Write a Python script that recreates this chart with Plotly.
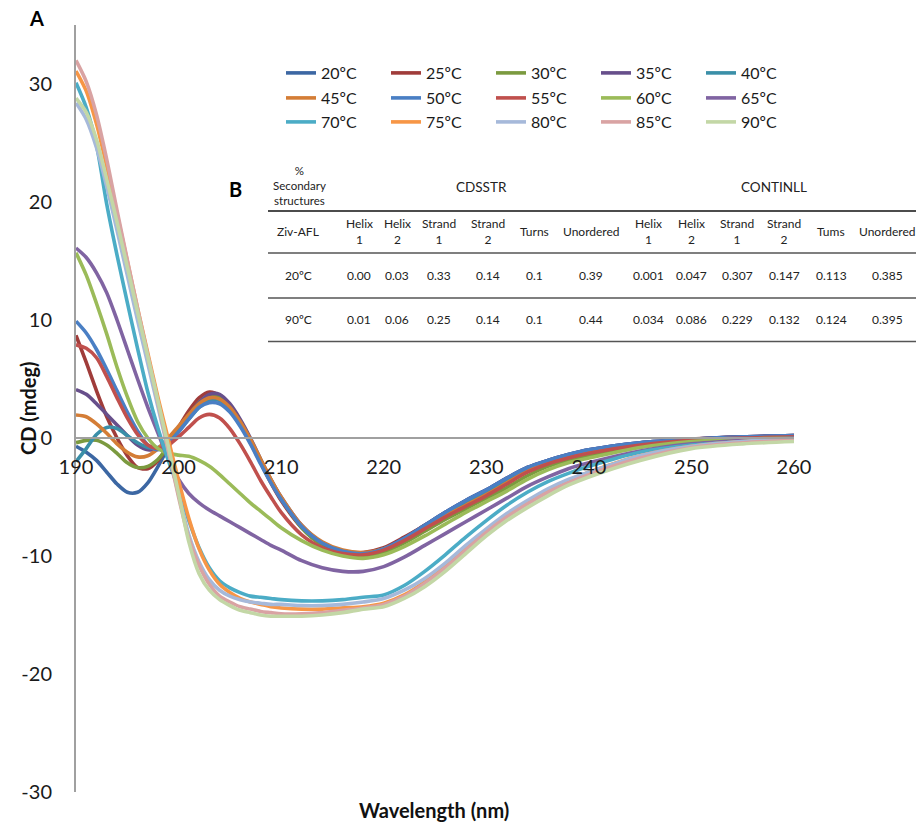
import plotly.graph_objects as go

# Wavelength grid (nm)
wavelength = [190, 191, 192, 193, 194, 195, 196, 197, 198, 199, 200,
              201, 202, 203, 204, 205, 206, 207, 208, 209, 210,
              212, 214, 216, 218, 220, 222, 224, 226, 228, 230,
              232, 234, 236, 238, 240, 245, 250, 255, 260]

temps = ["20ºC", "25ºC", "30ºC", "35ºC", "40ºC",
         "45ºC", "50ºC", "55ºC", "60ºC", "65ºC",
         "70ºC", "75ºC", "80ºC", "85ºC", "90ºC"]

colors = ["#3c67a3", "#a03c3a", "#7b9a3f", "#674f8b", "#3a8fa8",
          "#d47d36", "#4a7fc4", "#c0504d", "#9bbb59", "#8064a2",
          "#4bacc6", "#f79646", "#a6b9da", "#d9a3a3", "#c3d7a6"]

# CD signal (mdeg) per temperature
cd_20 = [-0.7, -1.2, -1.9, -2.9, -3.9, -4.6, -4.6, -3.8, -2.4, -0.8, 0.6,
         1.8, 2.8, 3.3, 3.2, 2.5, 1.2, -0.3, -2.0, -3.7, -5.2,
         -7.5, -8.9, -9.6, -9.8, -9.4, -8.5, -7.4, -6.3, -5.3, -4.4,
         -3.4, -2.5, -1.9, -1.4, -1.0, -0.4, -0.1, 0.1, 0.2]
cd_25 = [8.7, 6.4, 4.0, 1.8, 0.0, -1.5, -2.5, -2.6, -1.9, -0.6, 0.9,
         2.3, 3.4, 3.9, 3.6, 2.6, 1.2, -0.4, -2.1, -3.8, -5.3,
         -7.6, -9.0, -9.6, -9.7, -9.3, -8.4, -7.4, -6.4, -5.5, -4.6,
         -3.6, -2.6, -2.0, -1.5, -1.1, -0.5, -0.1, 0.1, 0.2]
cd_30 = [-0.4, -0.2, -0.2, -0.6, -1.3, -2.1, -2.5, -2.4, -1.8, -0.7, 0.6,
         1.9, 3.0, 3.6, 3.5, 2.7, 1.4, -0.2, -1.9, -3.6, -5.1,
         -7.6, -9.1, -9.9, -10.1, -9.7, -8.9, -7.9, -6.9, -6.0, -5.1,
         -4.2, -3.2, -2.4, -1.9, -1.5, -0.7, -0.3, -0.1, 0.1]
cd_35 = [4.1, 3.7, 2.9, 2.0, 1.1, 0.2, -0.6, -1.0, -0.9, -0.3, 0.7,
         1.9, 3.0, 3.7, 3.7, 2.9, 1.6, 0.0, -1.8, -3.5, -5.0,
         -7.4, -8.9, -9.6, -9.8, -9.4, -8.5, -7.4, -6.3, -5.3, -4.4,
         -3.4, -2.5, -1.9, -1.4, -1.0, -0.4, -0.1, 0.1, 0.2]
cd_40 = [-2.0, -0.9, 0.3, 0.9, 0.8, 0.2, -0.4, -0.8, -0.8, -0.3, 0.6,
         1.6, 2.6, 3.2, 3.2, 2.5, 1.3, -0.2, -1.9, -3.6, -5.1,
         -7.5, -8.9, -9.6, -9.8, -9.4, -8.6, -7.5, -6.5, -5.5, -4.6,
         -3.6, -2.7, -2.0, -1.5, -1.1, -0.5, -0.2, 0.0, 0.1]
cd_45 = [1.95, 1.8, 1.2, 0.4, -0.5, -1.2, -1.6, -1.5, -0.9, 0.0, 1.0,
         2.0, 2.9, 3.4, 3.3, 2.6, 1.4, -0.1, -1.8, -3.5, -5.0,
         -7.4, -8.8, -9.5, -9.7, -9.4, -8.6, -7.6, -6.6, -5.7, -4.8,
         -3.8, -2.8, -2.1, -1.6, -1.2, -0.5, -0.2, 0.0, 0.1]
cd_50 = [9.9, 8.9, 7.5, 5.8, 4.0, 2.2, 0.6, -0.6, -1.0, -0.5, 0.5,
         1.6, 2.6, 3.0, 2.9, 2.2, 1.0, -0.5, -2.2, -3.8, -5.2,
         -7.5, -8.9, -9.6, -9.8, -9.4, -8.5, -7.4, -6.3, -5.3, -4.4,
         -3.4, -2.5, -1.9, -1.4, -1.0, -0.4, -0.1, 0.1, 0.2]
cd_55 = [7.9, 7.6, 6.8, 5.2, 3.4, 1.7, 0.3, -0.6, -0.9, -0.6, 0.1,
         0.9, 1.7, 2.0, 1.7, 0.8, -0.5, -2.0, -3.6, -5.0, -6.3,
         -8.2, -9.3, -9.8, -9.9, -9.5, -8.7, -7.7, -6.7, -5.8, -4.9,
         -3.9, -2.9, -2.2, -1.7, -1.3, -0.6, -0.2, 0.0, 0.1]
cd_60 = [15.7, 13.8, 11.4, 8.8, 6.0, 3.5, 1.4, 0.0, -0.9, -1.3, -1.45,
         -1.55, -1.9, -2.4, -3.1, -3.9, -4.7, -5.5, -6.2, -6.9, -7.6,
         -8.7, -9.5, -10.0, -10.2, -9.9, -9.2, -8.3, -7.3, -6.3, -5.4,
         -4.5, -3.5, -2.7, -2.1, -1.7, -0.8, -0.3, -0.1, 0.0]
cd_65 = [16.1, 15.3, 14.0, 12.3, 10.0, 7.5, 5.0, 2.6, 0.4, -1.8, -3.5,
         -4.7, -5.5, -6.1, -6.6, -7.1, -7.6, -8.1, -8.6, -9.1, -9.5,
         -10.4, -11.0, -11.3, -11.3, -10.9, -10.1, -9.1, -8.1, -7.1, -6.1,
         -5.1, -4.1, -3.3, -2.6, -2.1, -1.1, -0.5, -0.2, 0.0]
cd_70 = [30.1, 28.0, 24.8, 19.8, 15.5, 11.5, 7.6, 3.9, 0.8, -1.9, -4.3,
         -7.0, -9.3, -11.0, -12.1, -12.7, -13.1, -13.4, -13.5, -13.6, -13.7,
         -13.8, -13.8, -13.7, -13.5, -13.3, -12.5, -11.3, -9.9, -8.4, -7.0,
         -5.7, -4.6, -3.7, -3.0, -2.4, -1.2, -0.6, -0.3, -0.1]
cd_75 = [31.1, 29.4, 26.6, 23.0, 19.0, 15.0, 11.0, 7.2, 3.4, -0.1, -3.6,
         -6.8, -9.4, -11.2, -12.4, -13.1, -13.6, -13.9, -14.1, -14.3, -14.4,
         -14.5, -14.5, -14.4, -14.3, -14.0, -13.3, -12.2, -10.8, -9.3, -7.8,
         -6.5, -5.4, -4.4, -3.6, -2.9, -1.5, -0.7, -0.3, -0.1]
cd_80 = [28.4, 27.0, 24.6, 21.3, 17.6, 13.8, 10.0, 6.3, 2.6, -1.1, -4.8,
         -8.2, -10.5, -12.0, -12.9, -13.4, -13.7, -13.9, -14.0, -14.1, -14.1,
         -14.2, -14.2, -14.1, -13.9, -13.6, -12.9, -11.9, -10.6, -9.1, -7.7,
         -6.4, -5.3, -4.3, -3.5, -2.9, -1.5, -0.7, -0.3, -0.1]
cd_85 = [32.0, 30.2, 27.4, 23.6, 19.3, 15.1, 11.0, 7.0, 3.0, -1.0, -5.0,
         -8.5, -10.8, -12.4, -13.4, -13.9, -14.3, -14.5, -14.7, -14.8, -14.9,
         -14.9, -14.8, -14.6, -14.4, -14.1, -13.4, -12.3, -11.0, -9.5, -8.0,
         -6.7, -5.6, -4.6, -3.8, -3.1, -1.7, -0.8, -0.4, -0.2]
cd_90 = [28.8, 27.6, 25.3, 21.9, 18.3, 14.5, 10.7, 6.9, 3.1, -0.7, -4.7,
         -8.8, -11.5, -12.9, -13.7, -14.2, -14.6, -14.8, -15.0, -15.1, -15.1,
         -15.1, -15.0, -14.8, -14.5, -14.3, -13.6, -12.6, -11.3, -9.8, -8.3,
         -7.0, -5.9, -4.9, -4.0, -3.3, -1.9, -0.9, -0.5, -0.3]

series = [cd_20, cd_25, cd_30, cd_35, cd_40, cd_45, cd_50, cd_55,
          cd_60, cd_65, cd_70, cd_75, cd_80, cd_85, cd_90]

# Axis ticks
x_ticks = [190, 200, 210, 220, 230, 240, 250, 260]
y_ticks = [-30, -20, -10, 0, 10, 20, 30]
y_tick_text = ["-30", "-20", "-10", "0", "10", "20", "30"]

# Secondary structure table
sample_col = "Ziv-AFL"
row_labels = ["20ºC", "90ºC"]
col_heads = ["Helix<br>1", "Helix<br>2", "Strand<br>1", "Strand<br>2", "Turns", "Unordered",
             "Helix<br>1", "Helix<br>2", "Strand<br>1", "Strand<br>2", "Tums", "Unordered"]
cdsstr_20 = ["0.00", "0.03", "0.33", "0.14", "0.1", "0.39"]
cdsstr_90 = ["0.01", "0.06", "0.25", "0.14", "0.1", "0.44"]
continll_20 = ["0.001", "0.047", "0.307", "0.147", "0.113", "0.385"]
continll_90 = ["0.034", "0.086", "0.229", "0.132", "0.124", "0.395"]

FONT = "Lato, 'Open Sans', sans-serif"
W, H = 916, 827
L, R, T, B = 76, 122, 25, 35
PW, PH = W - L - R, H - T - B


def px(x):
    return (x - L) / PW


def py(y):
    return (H - B - y) / PH


fig = go.Figure()
legend_ids = ["legend", "legend2", "legend3"]
for i, (name, ys, col) in enumerate(zip(temps, series, colors)):
    fig.add_trace(go.Scatter(
        x=wavelength, y=ys, name=name, mode="lines",
        line=dict(color=col, width=3.6, shape="spline", smoothing=0.8),
        legend=legend_ids[i // 5],
    ))

leg_common = dict(orientation="h", xanchor="left", yanchor="middle",
                  x=px(281), entrywidth=60, entrywidthmode="pixels",
                  font=dict(family=FONT, size=16, color="#1a1a1a"),
                  bgcolor="rgba(0,0,0,0)", borderwidth=0, itemwidth=30,
                  traceorder="normal")

fig.update_layout(
    width=W, height=H,
    margin=dict(l=L, r=R, t=T, b=B, autoexpand=False),
    paper_bgcolor="white", plot_bgcolor="white",
    font=dict(family=FONT, color="#1a1a1a"),
    showlegend=True,
    legend=dict(leg_common, y=py(73)),
    legend2=dict(leg_common, y=py(98)),
    legend3=dict(leg_common, y=py(122)),
    xaxis=dict(range=[190, 260], anchor="free", position=30 / 65,
               tickvals=x_ticks, automargin=False,
               showline=True, linecolor="#a0a0a0", linewidth=1.5,
               showgrid=False, zeroline=False,
               ticks="outside", ticklen=11, tickcolor="rgba(0,0,0,0)",
               tickfont=dict(family=FONT, size=20, color="#1a1a1a")),
    yaxis=dict(range=[-30, 35], tickvals=y_ticks, ticktext=y_tick_text,
               automargin=False,
               showline=True, linecolor="#a0a0a0", linewidth=2,
               showgrid=False, zeroline=False,
               ticks="outside", ticklen=18, tickcolor="rgba(0,0,0,0)",
               tickfont=dict(family=FONT, size=20, color="#1a1a1a")),
)

ann = []
ann.append(dict(x=px(434), y=py(810), text="<b>Wavelength (nm)</b>",
                font=dict(family=FONT, size=20, color="#111")))
ann.append(dict(x=px(28), y=py(408), text="<b>CD (mdeg)</b>", textangle=-90,
                font=dict(family=FONT, size=20, color="#111")))
ann.append(dict(x=px(36), y=py(18), text="<b>A</b>",
                font=dict(family=FONT, size=20, color="#000")))
ann.append(dict(x=px(235), y=py(189), text="<b>B</b>",
                font=dict(family=FONT, size=20, color="#000")))

small = dict(family=FONT, size=12, color="#222")
ann.append(dict(x=px(299), y=py(186), text="%<br>Secondary<br>structures",
                font=dict(family=FONT, size=11.5, color="#222")))
ann.append(dict(x=px(481), y=py(187), text="CDSSTR",
                font=dict(family=FONT, size=13.5, color="#222")))
ann.append(dict(x=px(774), y=py(187), text="CONTINLL",
                font=dict(family=FONT, size=13.5, color="#222")))

col_x = [359, 397, 439, 488, 534, 591, 648, 691, 737, 784, 831, 887]
ann.append(dict(x=px(298), y=py(232), text=sample_col, font=small))
for cx, head in zip(col_x, col_heads):
    ann.append(dict(x=px(cx), y=py(232), text=head, font=small))

for ry, lab, vals in [(275, row_labels[0], cdsstr_20 + continll_20),
                      (319, row_labels[1], cdsstr_90 + continll_90)]:
    ann.append(dict(x=px(298), y=py(ry), text=lab, font=small))
    for cx, v in zip(col_x, vals):
        ann.append(dict(x=px(cx), y=py(ry), text=v, font=small))

for a in ann:
    a.update(xref="paper", yref="paper", showarrow=False,
             xanchor="center", yanchor="middle")
fig.update_layout(annotations=ann)

shapes = []
for yline, col, w in [(211, "#111", 1.6), (253, "#555", 1.6),
                      (298, "#555", 1.6), (341.5, "#555", 1.6)]:
    shapes.append(dict(type="line", xref="paper", yref="paper",
                       x0=px(268), x1=px(916), y0=py(yline), y1=py(yline),
                       line=dict(color=col, width=w)))
fig.update_layout(shapes=shapes)

fig.write_html("out.html")
